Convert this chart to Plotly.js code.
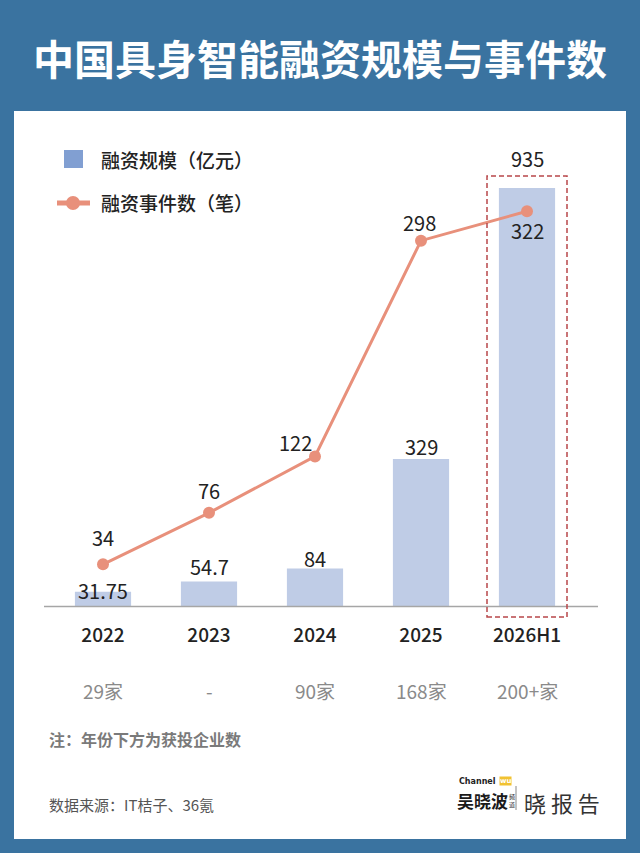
<!DOCTYPE html>
<html>
<head>
<meta charset="utf-8">
<script src="https://cdn.plot.ly/plotly-3.0.1.min.js"></script>
<style>
html,body{margin:0;padding:0;background:#3a73a0;}
#chart{width:640px;height:853px;}
</style>
</head>
<body>
<div id="chart"></div>
<script>
// ---- data ----
const years = ['2022', '2023', '2024', '2025', '2026H1'];
const fundingAmount = [31.75, 54.7, 84, 329, 935];      // 融资规模（亿元）
const fundingEvents = [34, 76, 122, 298, 322];          // 融资事件数（笔）
const companyCounts = ['29家', '-', '90家', '168家', '200+家']; // 获投企业数
const amountLabels = ['31.75', '54.7', '84', '329', '935'];
const eventLabels = ['34', '76', '122', '298', '322'];

// ---- style ----
const FONT = '"Noto Sans CJK SC", "Noto Sans", sans-serif';
const BLUE_BG = '#3a73a0';
const BAR_COLOR = '#bfcce6';
const LINE_COLOR = '#e8907b';
const TEXT_DARK = '#222222';
const barLabelShift = [1, 15, 10, 12, 30];
const eventLabelShiftY = [27, 22, 14, 18, -19];
const eventLabelShiftX = [0, 0, -20, -2, 0];

const W = 640, H = 853;
const M = {l: 50, r: 60, t: 140, b: 247};
const PW = W - M.l - M.r, PH = H - M.t - M.b;
function px2x(px) { return (px - M.l) / PW; }
function py2y(py) { return (H - M.b - py) / PH; }

const traces = [
  {
    type: 'bar', x: years, y: fundingAmount, name: '融资规模（亿元）',
    marker: {color: BAR_COLOR}, width: 0.53, hoverinfo: 'x+y', showlegend: false
  },
  {
    type: 'scatter', mode: 'lines+markers', x: years, y: fundingEvents, yaxis: 'y2',
    name: '融资事件数（笔）', line: {color: LINE_COLOR, width: 3},
    marker: {color: LINE_COLOR, size: 12}, showlegend: false
  }
];

const annotations = [];
years.forEach((yr, i) => {
  // category axis: annotation x given as category index
  annotations.push({
    x: i, y: fundingAmount[i], xref: 'x', yref: 'y', text: amountLabels[i],
    showarrow: false, yanchor: 'middle', yshift: barLabelShift[i],
    font: {family: FONT, size: 20, color: TEXT_DARK}
  });
  annotations.push({
    x: i, y: fundingEvents[i], xref: 'x', yref: 'y2', text: eventLabels[i],
    showarrow: false, yanchor: 'middle', yshift: eventLabelShiftY[i], xshift: eventLabelShiftX[i],
    font: {family: FONT, size: 20, color: TEXT_DARK}
  });
  annotations.push({
    x: i, y: py2y(690), xref: 'x', yref: 'paper', text: companyCounts[i],
    showarrow: false, yanchor: 'middle',
    font: {family: FONT, size: 19, color: '#8a8a8a'}
  });
});

// title
annotations.push({
  x: px2x(320), y: py2y(57), xref: 'paper', yref: 'paper', xanchor: 'center', yanchor: 'middle',
  text: '<b>中国具身智能融资规模与事件数</b>', showarrow: false,
  font: {family: FONT, size: 41, color: '#ffffff'}
});
// custom legend text
annotations.push({
  x: px2x(99), y: py2y(159), xref: 'paper', yref: 'paper', xanchor: 'left', yanchor: 'middle',
  text: '融资规模（亿元）', showarrow: false, font: {family: FONT, size: 19, color: TEXT_DARK, weight: 500}
});
annotations.push({
  x: px2x(99), y: py2y(202), xref: 'paper', yref: 'paper', xanchor: 'left', yanchor: 'middle',
  text: '融资事件数（笔）', showarrow: false, font: {family: FONT, size: 19, color: TEXT_DARK, weight: 500}
});
// notes
annotations.push({
  x: px2x(47), y: py2y(739), xref: 'paper', yref: 'paper', xanchor: 'left', yanchor: 'middle',
  text: '<b>注：年份下方为获投企业数</b>', showarrow: false, font: {family: FONT, size: 16, color: '#7a7a7a'}
});
annotations.push({
  x: px2x(47), y: py2y(804), xref: 'paper', yref: 'paper', xanchor: 'left', yanchor: 'middle',
  text: '数据来源：IT桔子、36氪', showarrow: false, font: {family: FONT, size: 15, color: '#555555'}
});
// logo
annotations.push({
  x: px2x(457), y: py2y(781), xref: 'paper', yref: 'paper', xanchor: 'left', yanchor: 'middle',
  text: '<b>Channel</b>', showarrow: false, font: {family: 'DejaVu Sans', size: 8, color: '#222'}
});
annotations.push({
  x: px2x(499), y: py2y(781), xref: 'paper', yref: 'paper', xanchor: 'left', yanchor: 'middle',
  text: '<b>wu</b>', showarrow: false, bgcolor: '#f1c232', borderpad: 0,
  font: {family: 'DejaVu Sans', size: 7, color: '#ffffff'}
});
annotations.push({
  x: px2x(455), y: py2y(800), xref: 'paper', yref: 'paper', xanchor: 'left', yanchor: 'middle',
  text: '<b>吴晓波</b>', showarrow: false, font: {family: FONT, size: 17, color: '#1a1a1a'}
});
annotations.push({
  x: px2x(507), y: py2y(800), xref: 'paper', yref: 'paper', xanchor: 'left', yanchor: 'middle',
  text: '频<br>道', showarrow: false, font: {family: FONT, size: 6, color: '#1a1a1a'}
});
annotations.push({
  x: px2x(522), y: py2y(802), xref: 'paper', yref: 'paper', xanchor: 'left', yanchor: 'middle',
  text: '晓 报 告', showarrow: false, font: {family: FONT, size: 22, color: '#333333'}
});

const shapes = [
  // white panel
  {type: 'rect', xref: 'paper', yref: 'paper', x0: px2x(14), x1: px2x(626), y0: py2y(839), y1: py2y(111),
   fillcolor: '#ffffff', line: {width: 0}, layer: 'below'},
  // baseline
  {type: 'line', xref: 'paper', yref: 'paper', x0: px2x(44), x1: px2x(598), y0: py2y(606.5), y1: py2y(606.5),
   line: {color: '#a6a6a6', width: 1.5}},
  // dashed highlight box
  {type: 'rect', xref: 'paper', yref: 'paper', x0: px2x(487), x1: px2x(567), y0: py2y(617), y1: py2y(176),
   line: {color: '#b8474a', width: 1.5, dash: '5px,3px'}, fillcolor: 'rgba(0,0,0,0)'},
  // legend square
  {type: 'rect', xref: 'paper', yref: 'paper', x0: px2x(64), x1: px2x(83), y0: py2y(168), y1: py2y(150),
   fillcolor: '#819fd2', line: {width: 0}},
  // legend line
  {type: 'line', xref: 'paper', yref: 'paper', x0: px2x(57), x1: px2x(90), y0: py2y(203), y1: py2y(203),
   line: {color: LINE_COLOR, width: 5}},
  {type: 'circle', xref: 'paper', yref: 'paper', x0: px2x(66), x1: px2x(80), y0: py2y(210), y1: py2y(196),
   fillcolor: LINE_COLOR, line: {width: 0}},
  // logo separator
  {type: 'line', xref: 'paper', yref: 'paper', x0: px2x(516), x1: px2x(516), y0: py2y(810), y1: py2y(786),
   line: {color: '#888', width: 1}}
];

const layout = {
  width: W, height: H,
  margin: M,
  paper_bgcolor: BLUE_BG,
  plot_bgcolor: 'rgba(0,0,0,0)',
  font: {family: FONT, color: TEXT_DARK},
  showlegend: false,
  bargap: 0.47,
  xaxis: {
    type: 'category', range: [-0.5, 4.5], showgrid: false, zeroline: false, showline: false,
    ticks: '', ticklabelstandoff: 16,
    tickfont: {family: FONT, size: 19, color: TEXT_DARK, weight: 500}
  },
  yaxis: {range: [0, 466 / 0.447], visible: false, showgrid: false, zeroline: false, fixedrange: true},
  yaxis2: {range: [0, 466 / 1.226], overlaying: 'y', side: 'right', visible: false, showgrid: false, zeroline: false},
  annotations: annotations,
  shapes: shapes
};

Plotly.newPlot('chart', traces, layout, {displayModeBar: false, staticPlot: true});
</script>
</body>
</html>
